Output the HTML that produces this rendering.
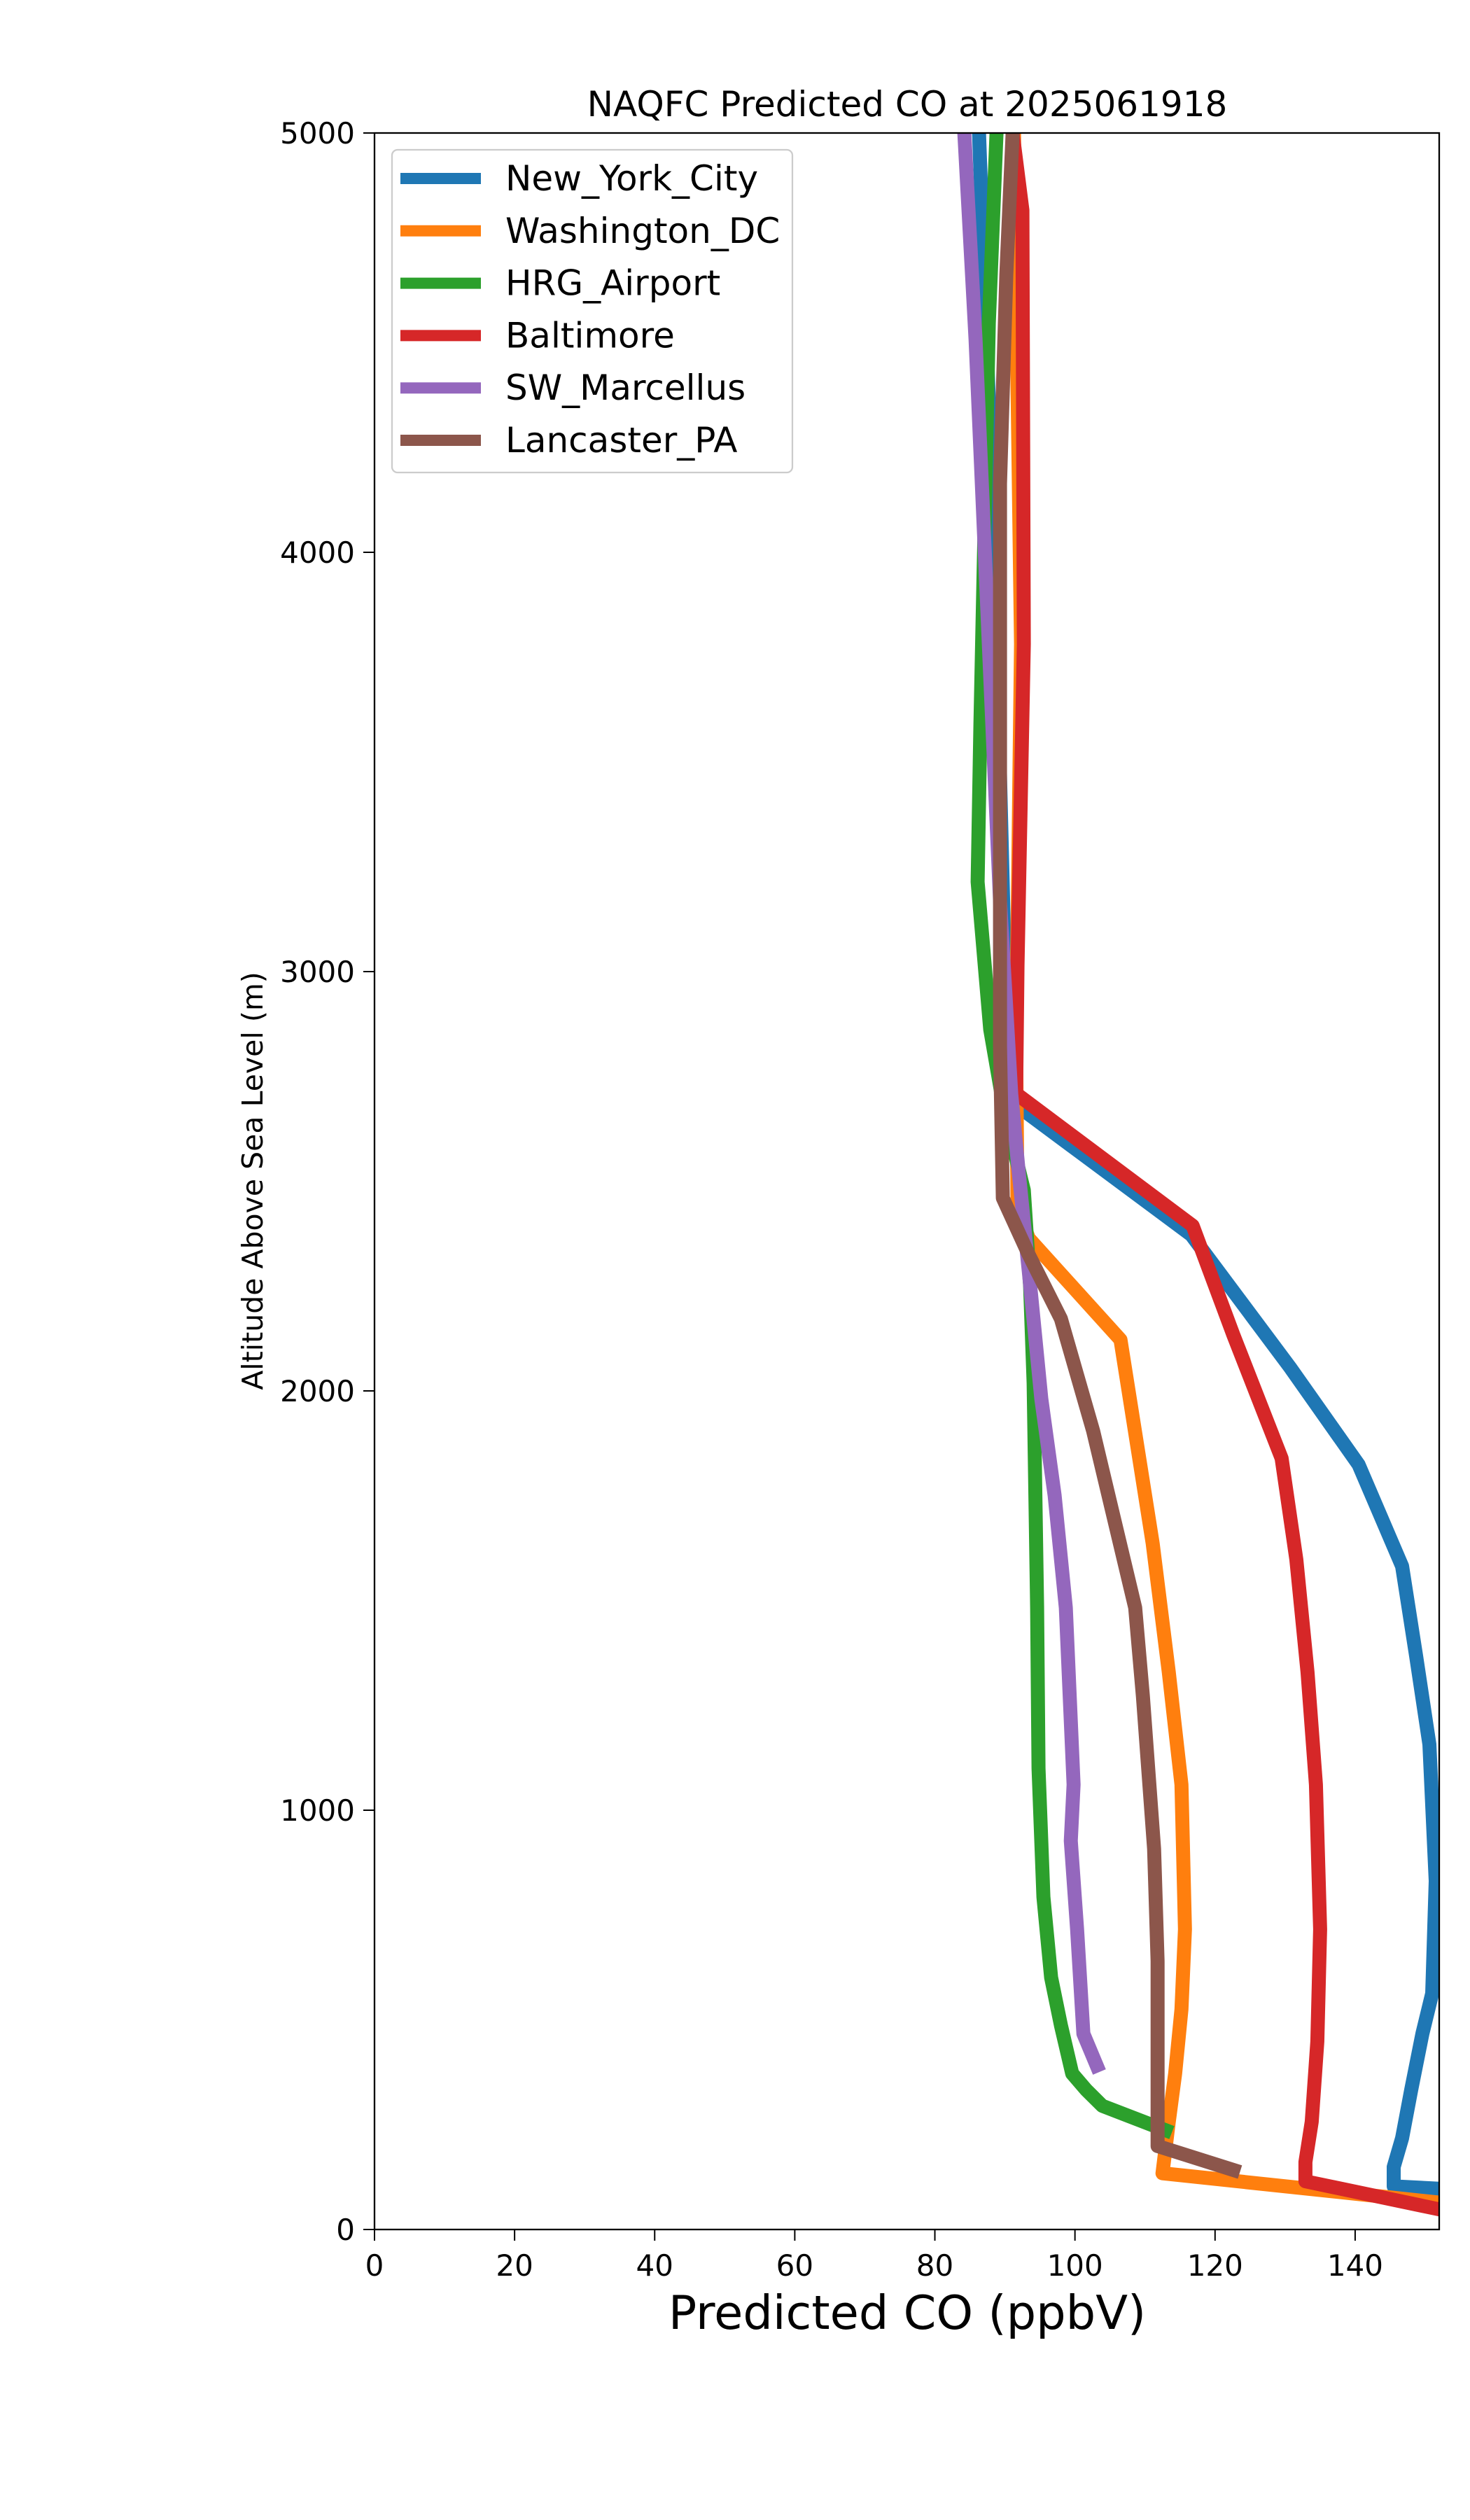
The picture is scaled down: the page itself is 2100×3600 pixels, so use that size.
<!DOCTYPE html>
<html><head><meta charset="utf-8"><style>
html,body{margin:0;padding:0;background:#fff;}
svg{display:block;font-family:"DejaVu Sans","Liberation Sans",sans-serif;}
</style></head><body>
<svg id="chart" width="2100" height="3600" viewBox="0 0 2100 3600" xmlns="http://www.w3.org/2000/svg">
<rect width="2100" height="3600" fill="#fff"/>
<defs><clipPath id="plotclip"><rect x="535" y="190" width="1521" height="2995"/></clipPath></defs>
<text x="1296" y="166" font-size="50" text-anchor="middle">NAQFC Predicted CO at 2025061918</text>
<g id="series" clip-path="url(#plotclip)"></g>
<g id="axes"></g>
<text x="1296" y="3327" font-size="67" text-anchor="middle">Predicted CO (ppbV)</text>
<text x="0" y="0" font-size="41" text-anchor="middle" transform="translate(375,1687) rotate(-90)">Altitude Above Sea Level (m)</text>
<g id="legend"></g>
</svg>
<script>
const seriesNames = ["New_York_City","Washington_DC","HRG_Airport","Baltimore","SW_Marcellus","Lancaster_PA"];
const seriesColors = ["#1f77b4","#ff7f0e","#2ca02c","#d62728","#9467bd","#8c564b"];
const nycCO  = [86.3,88.5,90,91.3,116.6,130.8,140.5,146.7,148.7,150.6,151.5,151,149.6,148,146.7,145.5,145.5,160];
const nycAlt = [5000,4000,3000,2686,2372,2054,1824,1582,1368,1157,831,563,467,333,218,149,103,90];
const dcCO  = [91.3,92.3,91.6,91.8,93.4,106.5,111.1,113.4,115.2,115.7,115.2,114.3,113.4,112.5,160];
const dcAlt = [5000,3781,2823,2440,2364,2122,1636,1329,1061,716,525,372,257,134,50];
const hrgCO  = [88.8,87.7,86.5,86.1,87.9,89.9,92.7,93.6,94.1,94.6,94.8,95.5,96.6,98,99.6,101.6,103.9,112.9];
const hrgAlt = [5000,4547,3590,3214,2862,2670,2479,2249,2019,1483,1100,793,601,487,372,333,295,237];
const balCO  = [91.1,92.5,92.7,91.8,91.6,116.8,122.6,129.5,131.6,133.2,134.4,135,134.6,133.8,132.9,132.9,160];
const balAlt = [5000,4816,3781,3015,2709,2394,2134,1839,1598,1329,1061,716,448,257,161,115,20];
const swmCO  = [84.2,85.8,87.7,89.3,90.9,92,93.4,95.2,97.1,98.7,99.8,99.4,100.3,101.2,103.1];
const swmAlt = [5000,4509,3781,3168,2709,2517,2287,1981,1751,1483,1061,927,716,467,391];
const lanCO  = [91.1,90.2,89.3,89.3,89.7,93.4,98,102.6,108.6,109.7,111.3,111.8,111.8,122.6];
const lanAlt = [5000,4662,4164,2823,2460,2325,2172,1904,1483,1272,908,640,199,142];
const xTicks = [0,20,40,60,80,100,120,140];
const yTicks = [0,1000,2000,3000,4000,5000];

const X0=535,X1=2056,Y0=3185,Y1=190,XMAX=152,YMAX=5000;
function xs(v){return X0+(v/XMAX)*(X1-X0);}
function ys(v){return Y0-(v/YMAX)*(Y0-Y1);}
const NS="http://www.w3.org/2000/svg";
const seriesData=[[nycCO,nycAlt],[dcCO,dcAlt],[hrgCO,hrgAlt],[balCO,balAlt],[swmCO,swmAlt],[lanCO,lanAlt]];
const sg=document.getElementById('series');
seriesData.forEach((d,i)=>{
  const p=document.createElementNS(NS,'polyline');
  
  
  p.setAttribute('points',d[0].map((c,k)=>xs(c).toFixed(1)+','+ys(d[1][k]).toFixed(1)).join(' '));
  p.setAttribute('fill','none');p.setAttribute('stroke',seriesColors[i]);
  p.setAttribute('stroke-width','20');p.setAttribute('stroke-linejoin','round');p.setAttribute('stroke-linecap','square');
  sg.appendChild(p);
});
const ag=document.getElementById('axes');
const frame=document.createElementNS(NS,'rect');


frame.setAttribute('x',X0);frame.setAttribute('y',Y1);frame.setAttribute('width',X1-X0);frame.setAttribute('height',Y0-Y1);
frame.setAttribute('fill','none');frame.setAttribute('stroke','#000');frame.setAttribute('stroke-width','2.3');
ag.appendChild(frame);
xTicks.forEach(t=>{
  const l=document.createElementNS(NS,'line');
  
  
  l.setAttribute('x1',xs(t));l.setAttribute('x2',xs(t));l.setAttribute('y1',Y0);l.setAttribute('y2',Y0+16);
  l.setAttribute('stroke','#000');l.setAttribute('stroke-width','2');ag.appendChild(l);
  const tx=document.createElementNS(NS,'text');
  
  
  tx.setAttribute('x',xs(t));tx.setAttribute('y',Y0+66);tx.setAttribute('font-size','42');tx.setAttribute('text-anchor','middle');
  tx.textContent=t;ag.appendChild(tx);
});
yTicks.forEach(t=>{
  const l=document.createElementNS(NS,'line');
  
  
  l.setAttribute('x1',X0-16);l.setAttribute('x2',X0);l.setAttribute('y1',ys(t));l.setAttribute('y2',ys(t));
  l.setAttribute('stroke','#000');l.setAttribute('stroke-width','2');ag.appendChild(l);
  const tx=document.createElementNS(NS,'text');
  
  
  tx.setAttribute('x',X0-28);tx.setAttribute('y',ys(t)+15);tx.setAttribute('font-size','42');tx.setAttribute('text-anchor','end');
  tx.textContent=t;ag.appendChild(tx);
});
const lg=document.getElementById('legend');
const box=document.createElementNS(NS,'rect');


box.setAttribute('x',560);box.setAttribute('y',214);box.setAttribute('width',572);box.setAttribute('height',461);box.setAttribute('rx',8);
box.setAttribute('fill','#fff');box.setAttribute('fill-opacity','0.8');box.setAttribute('stroke','#ccc');box.setAttribute('stroke-width','2.3');
lg.appendChild(box);
seriesNames.forEach((n,i)=>{
  const y=255+i*74.8;
  const g=document.createElementNS(NS,'g');
  
  
  const l=document.createElementNS(NS,'line');
  l.setAttribute('x1',572);l.setAttribute('x2',687);l.setAttribute('y1',y);l.setAttribute('y2',y);
  l.setAttribute('stroke',seriesColors[i]);l.setAttribute('stroke-width','16');
  g.appendChild(l);
  const t=document.createElementNS(NS,'text');
  t.setAttribute('x',722);t.setAttribute('y',y+17);t.setAttribute('font-size','50');
  t.textContent=n;g.appendChild(t);
  lg.appendChild(g);
});
</script>
</body></html>
